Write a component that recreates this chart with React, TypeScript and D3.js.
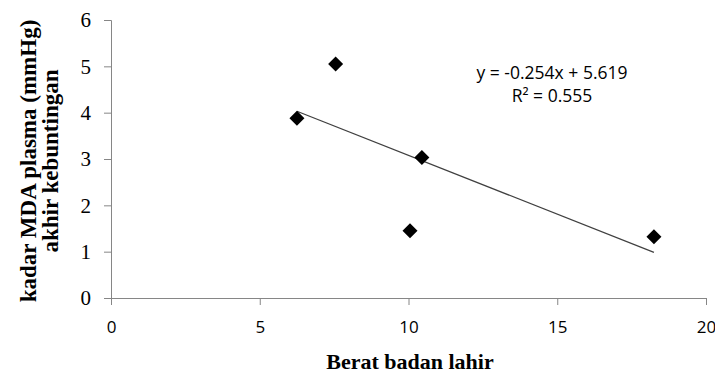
import React, { useEffect, useRef } from 'react'
import * as d3 from 'd3'

// data
const beratBadan = [6.25, 7.55, 10.05, 10.45, 18.25]
const kadarMDA = [3.88, 5.05, 1.45, 3.03, 1.32]
const xTicks = [0, 5, 10, 15, 20]
const yTicks = [0, 1, 2, 3, 4, 5, 6]
const slope = -0.254
const intercept = 5.619
const eqLines = ['y = -0.254x + 5.619', 'R² = 0.555']

const App = () => {
  const svgRef = useRef<SVGSVGElement>(null)

  useEffect(() => {
    const width = 715
    const height = 373
    const left = 111
    const right = 706
    const top = 20
    const bottom = 298

    const svg = d3.select(svgRef.current).attr('width', width).attr('height', height)
    svg.selectAll('*').remove()

    const x = d3.scaleLinear().domain([0, 20]).range([left, right])
    const y = d3.scaleLinear().domain([0, 6]).range([bottom, top])

    const axisColor = '#868686'

    // y axis
    const gy = svg.append('g').attr('transform', `translate(${left},0)`)
    gy.call(d3.axisLeft(y).tickValues(yTicks).tickSize(7).tickPadding(13).tickFormat(d3.format('d')))
    gy.select('.domain').attr('stroke', axisColor)
    gy.selectAll('.tick line').attr('stroke', axisColor)
    gy.selectAll('.tick text')
      .attr('fill', '#000')
      .style('font-family', '"Liberation Serif", "Times New Roman", serif')
      .style('font-size', '21px')

    // x axis
    const gx = svg.append('g').attr('transform', `translate(0,${bottom})`)
    gx.call(d3.axisBottom(x).tickValues(xTicks).tickSize(7).tickPadding(16).tickFormat(d3.format('d')))
    gx.select('.domain').attr('stroke', axisColor)
    gx.selectAll('.tick line').attr('stroke', axisColor)
    gx.selectAll('.tick text')
      .attr('fill', '#000')
      .style('font-family', '"Open Sans", "Liberation Sans", sans-serif')
      .style('font-size', '17px')

    // trend line
    const xs = d3.extent(beratBadan) as [number, number]
    svg
      .append('line')
      .attr('x1', x(xs[0]))
      .attr('y1', y(slope * xs[0] + intercept))
      .attr('x2', x(xs[1]))
      .attr('y2', y(slope * xs[1] + intercept))
      .attr('stroke', '#404040')
      .attr('stroke-width', 1.2)

    // diamond markers
    const r = 7.5
    svg
      .selectAll('path.pt')
      .data(beratBadan.map((b, i) => [b, kadarMDA[i]]))
      .enter()
      .append('path')
      .attr('class', 'pt')
      .attr('d', `M0,${-r}L${r},0L0,${r}L${-r},0Z`)
      .attr('transform', (d) => `translate(${x(d[0])},${y(d[1])})`)
      .attr('fill', '#000')

    // equation
    svg
      .append('g')
      .selectAll('text')
      .data(eqLines)
      .enter()
      .append('text')
      .attr('x', 552)
      .attr('y', (d, i) => 79 + i * 23)
      .attr('text-anchor', 'middle')
      .style('font-family', '"Open Sans", "Liberation Sans", sans-serif')
      .style('font-size', '17.5px')
      .attr('fill', '#000')
      .text((d) => d)

    // axis titles
    const title = svg
      .append('text')
      .attr('transform', 'translate(0,161) rotate(-90)')
      .attr('text-anchor', 'middle')
      .style('font-family', '"Liberation Serif", "Times New Roman", serif')
      .style('font-size', '23px')
      .style('font-weight', 'bold')
    title.append('tspan').attr('x', 0).attr('y', 36).text('kadar MDA plasma (mmHg)')
    title.append('tspan').attr('x', 0).attr('y', 58).text('akhir kebuntingan')

    svg
      .append('text')
      .attr('x', 410)
      .attr('y', 369)
      .attr('text-anchor', 'middle')
      .style('font-family', '"Liberation Serif", "Times New Roman", serif')
      .style('font-size', '22px')
      .style('font-weight', 'bold')
      .text('Berat badan lahir')
  }, [])

  return (
    <div style={{ position: 'absolute', left: 0, top: 0 }}>
      <svg ref={svgRef}></svg>
    </div>
  )
}

export default App
